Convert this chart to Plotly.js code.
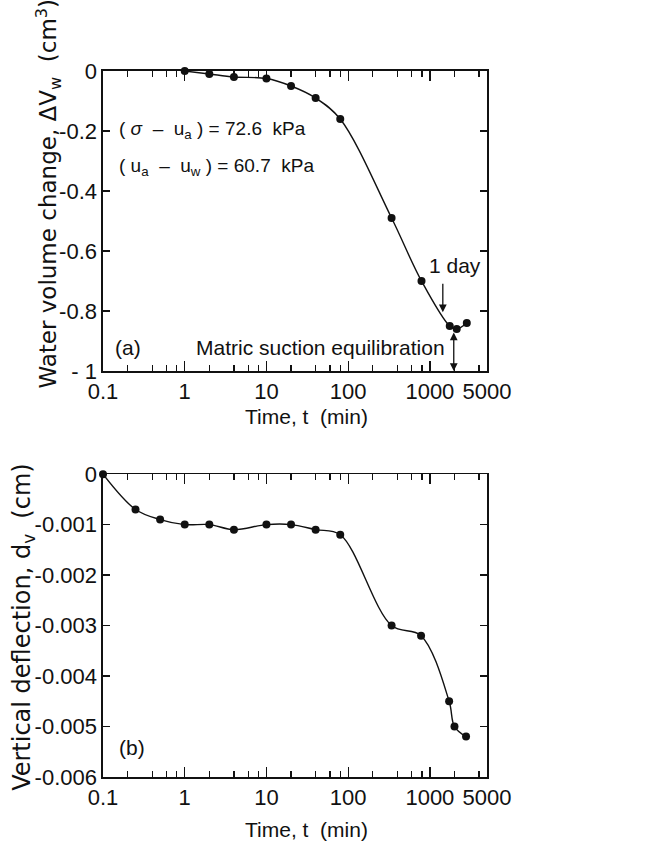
<!DOCTYPE html>
<html><head><meta charset="utf-8">
<script src="https://cdn.plot.ly/plotly-3.0.1.min.js"></script>
<style>html,body{margin:0;padding:0;background:#fff}#chart{width:655px;height:843px}</style>
</head><body><div id="chart"></div>
<script>
// (a) water volume change vs time
var timeA = [1, 2, 4, 10, 20, 40, 80, 340, 790, 1750, 2130, 2830];
var waterVolumeChange = [0, -0.01, -0.02, -0.025, -0.05, -0.09, -0.16, -0.49, -0.70, -0.85, -0.86, -0.84];
// (b) vertical deflection vs time
var timeB = [0.1, 0.25, 0.5, 1, 2, 4, 10, 20, 40, 80, 340, 780, 1720, 2000, 2770];
var verticalDeflection = [0, -0.0007, -0.0009, -0.001, -0.001, -0.0011, -0.001, -0.001, -0.0011, -0.0012, -0.003, -0.0032, -0.0045, -0.005, -0.0052];

var xTickVals = [0.1, 1, 10, 100, 1000, 5000];
var xTickText = ['0.1', '1', '10', '100', '1000', '5000'];
var xMinorVals = [0.2, 0.4, 0.6, 0.8, 2, 4, 6, 8, 20, 40, 60, 80, 200, 400, 600, 800, 2000, 4000];
var yTickValsA = [0, -0.2, -0.4, -0.6, -0.8, -1];
var yTickTextA = ['0', '-0.2', '-0.4', '-0.6', '-0.8', '- 1'];
var yTickValsB = [0, -0.001, -0.002, -0.003, -0.004, -0.005, -0.006];
var yTickTextB = ['0', '-0.001', '-0.002', '-0.003', '-0.004', '-0.005', '-0.006'];

var SANS = '"Liberation Sans", Arial, Helvetica, sans-serif';
var WIDE = '"DejaVu Sans", Verdana, sans-serif';
var tickFont = {family: SANS, size: 22, color: '#111'};

function xAxis(anchor) {
  return {
    type: 'log', range: [-1, Math.log10(5000)], anchor: anchor, domain: [0, 1],
    tickmode: 'array', tickvals: xTickVals, ticktext: xTickText,
    ticks: 'inside', ticklen: 10, tickwidth: 1.3, tickcolor: '#111',
    minor: {tickmode: 'array', tickvals: xMinorVals, ticks: 'inside', ticklen: 6, tickwidth: 1.2, tickcolor: '#111'},
    showline: true, linecolor: '#111', linewidth: 1.6, mirror: 'ticks',
    showgrid: false, zeroline: false, tickfont: tickFont
  };
}
function yAxis(anchor, domain, range, vals, text) {
  return {
    anchor: anchor, domain: domain, range: range,
    tickmode: 'array', tickvals: vals, ticktext: text,
    ticks: 'inside', ticklen: 7, tickwidth: 1.3, tickcolor: '#111',
    showline: true, linecolor: '#111', linewidth: 1.6, mirror: 'ticks',
    showgrid: false, zeroline: false, tickfont: tickFont
  };
}

var traces = [
  {x: timeA, y: waterVolumeChange, xaxis: 'x', yaxis: 'y', mode: 'lines+markers', cliponaxis: false,
   line: {shape: 'spline', smoothing: 1, color: '#111', width: 1.4}, marker: {size: 8, color: '#111'}},
  {x: timeB, y: verticalDeflection, xaxis: 'x2', yaxis: 'y2', mode: 'lines+markers', cliponaxis: false,
   line: {shape: 'spline', smoothing: 1, color: '#111', width: 1.4}, marker: {size: 8, color: '#111'}}
];

var annFont = {family: SANS, size: 21, color: '#111'};
function txt(x, y, text, xanchor, font, angle) {
  return {xref: 'paper', yref: 'paper', x: x, y: y, xanchor: xanchor || 'center', yanchor: 'middle',
          showarrow: false, text: text, font: font || annFont, textangle: angle || 0};
}
var layout = {
  width: 655, height: 843, showlegend: false,
  margin: {l: 103, r: 168, t: 71, b: 66},
  paper_bgcolor: '#fff', plot_bgcolor: '#fff',
  xaxis: xAxis('y'),
  yaxis: yAxis('x', [0.575, 1], [-1, 0], yTickValsA, yTickTextA),
  xaxis2: xAxis('y2'),
  yaxis2: yAxis('x2', [0, 0.429], [-0.006, 0], yTickValsB, yTickTextB),
  annotations: [
    txt(-0.143, 0.8265, 'Water volume change, ΔV<sub>w</sub>&nbsp;&nbsp;(cm<sup>3</sup>)', 'center', {family: WIDE, size: 23, color: '#111'}, -90),
    txt(-0.206, 0.2125, 'Vertical deflection, d<sub>v</sub>&nbsp;&nbsp;(cm)', 'center', {family: WIDE, size: 24, color: '#111'}, -90),
    txt(0.529, 0.510, 'Time, t&nbsp;&nbsp;(min)', 'center', {family: SANS, size: 21, color: '#111'}),
    txt(0.529, -0.075, 'Time, t&nbsp;&nbsp;(min)', 'center', {family: SANS, size: 21, color: '#111'}),
    txt(0.037, 0.916, '( <i>σ</i>&nbsp;&nbsp;–&nbsp;&nbsp;u<sub>a</sub> ) = 72.6&nbsp;&nbsp;kPa', 'left', {family: SANS, size: 19, color: '#111'}),
    txt(0.037, 0.864, '( u<sub>a</sub>&nbsp;&nbsp;–&nbsp;&nbsp;u<sub>w</sub> ) = 60.7&nbsp;&nbsp;kPa', 'left', {family: SANS, size: 19, color: '#111'}),
    txt(0.917, 0.725, '1 day'),
    txt(0.896, 0.609, 'Matric suction equilibration', 'right'),
    txt(0.026, 0.609, '(a)', 'left'),
    txt(0.036, 0.042, '(b)', 'left'),
    {xref: 'x', yref: 'y', x: Math.log10(1440), y: -0.804, ax: 0, ay: -30, text: '', showarrow: true,
     arrowhead: 2, arrowsize: 1.2, arrowwidth: 1.3, arrowcolor: '#111'},
    {xref: 'x', yref: 'y', x: Math.log10(1960), y: -1, ax: 0, ay: -40, text: '', showarrow: true,
     arrowside: 'end+start', arrowhead: 2, startarrowhead: 2, arrowsize: 1.2, startarrowsize: 1.2, arrowwidth: 1.3, arrowcolor: '#111'}
  ]
};

Plotly.newPlot('chart', traces, layout, {displayModeBar: false, staticPlot: true});
</script></body></html>
